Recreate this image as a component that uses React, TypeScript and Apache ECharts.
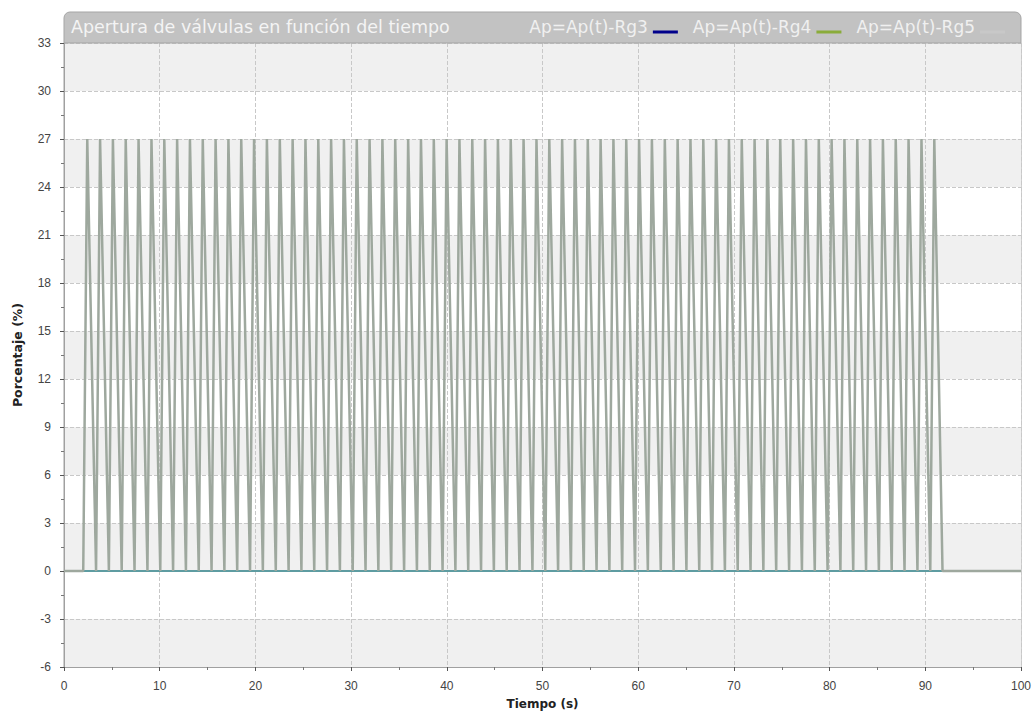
import React, { useEffect, useRef } from "react";
import * as echarts from "echarts";

const titleText = "Apertura de válvulas en función del tiempo";
const seriesNames = ["Ap=Ap(t)-Rg3", "Ap=Ap(t)-Rg4", "Ap=Ap(t)-Rg5"];
const legendColors = ["#00008b", "#8aac3a", "#c8c8c8"];
const xTicksMin = 0;
const xTicksMax = 100;
const yTicksMin = -6;
const yTicksMax = 33;
const peakValue = 27;

// valley (start of rise) times, s
const valleyTimes = [
  2.01, 3.35, 4.69, 6.03, 7.37, 8.72, 10.06, 11.4, 12.74, 14.08, 15.42, 16.76, 18.1, 19.44,
  20.78, 22.13, 23.47, 24.81, 26.15, 27.49, 28.83, 30.17, 31.51, 32.85, 34.19, 35.54, 36.88,
  38.22, 39.56, 40.9, 42.24, 43.58, 44.92, 46.26, 47.6, 48.95, 50.29, 51.63, 52.97, 54.31,
  55.65, 56.99, 58.33, 59.67, 61.01, 62.36, 63.7, 65.04, 66.38, 67.72, 69.06, 70.4, 71.74,
  73.08, 74.42, 75.77, 77.11, 78.45, 79.79, 81.13, 82.47, 83.81, 85.15, 86.49, 87.83, 89.18,
  90.52,
];
// peak times, s
const peakTimes = [
  2.43, 3.77, 5.11, 6.45, 7.79, 9.14, 10.48, 11.82, 13.16, 14.5, 15.84, 17.18, 18.52, 19.86,
  21.2, 22.55, 23.89, 25.23, 26.57, 27.91, 29.25, 30.59, 31.93, 33.27, 34.61, 35.96, 37.3,
  38.64, 39.98, 41.32, 42.66, 44.0, 45.34, 46.68, 48.02, 49.37, 50.71, 52.05, 53.39, 54.73,
  56.07, 57.41, 58.75, 60.09, 61.43, 62.78, 64.12, 65.46, 66.8, 68.14, 69.48, 70.82, 72.16,
  73.5, 74.84, 76.19, 77.53, 78.87, 80.21, 81.55, 82.89, 84.23, 85.57, 86.91, 88.25, 89.6,
  90.94,
];
const pulsesEnd = 91.8;
const zeroSeries = [
  [0, 0],
  [100, 0],
];

export default function App() {
  const ref = useRef<HTMLDivElement>(null);
  useEffect(() => {
    if (!ref.current) return;
    const chart = echarts.init(ref.current, undefined, { renderer: "svg" });
    const rg5: number[][] = [[0, 0]];
    for (let i = 0; i < peakTimes.length; i++) {
      rg5.push([valleyTimes[i], 0]);
      rg5.push([peakTimes[i], peakValue]);
    }
    rg5.push([pulsesEnd, 0]);
    rg5.push([100, 0]);
    const font = "'Liberation Sans', Arial, sans-serif";
    const wideFont = "'DejaVu Sans', Verdana, sans-serif";
    const legendIcon = "path://M0 0L0.01 0M0 11L25 11L25 14L0 14Z";
    chart.setOption({
      animation: false,
      textStyle: { fontFamily: font },
      grid: {
        left: 64,
        right: 13,
        top: 43,
        bottom: 44,
        outerBoundsMode: "none",
        containLabel: false,
        show: true,
        borderColor: "#a0a0a0",
        borderWidth: 1,
        backgroundColor: "transparent",
      },
      graphic: [
        {
          type: "rect",
          shape: { x: 64, y: 12, width: 957, height: 31, r: [6, 6, 0, 0] },
          style: { fill: "#c2c2c2", stroke: "#a5a5a5", lineWidth: 1 },
          z: 10,
        },
        {
          type: "text",
          x: 71,
          y: 27,
          style: {
            text: titleText,
            fill: "#f4f4f4",
            font: `17.5px ${wideFont}`,
            verticalAlign: "middle",
          },
          z: 11,
        },
      ],
      legend: {
        right: 24,
        top: 13,
        align: "right",
        itemGap: 15,
        itemWidth: 25,
        itemHeight: 14,
        icon: legendIcon,
        z: 12,
        textStyle: { color: "#f0f0f0", fontSize: 17, fontFamily: wideFont },
        data: seriesNames,
      },
      xAxis: {
        type: "value",
        min: xTicksMin,
        max: xTicksMax,
        interval: 10,
        name: "Tiempo (s)",
        nameLocation: "middle",
        nameGap: 31,
        nameTextStyle: { fontWeight: "bold", fontSize: 12, color: "#222", fontFamily: wideFont },
        axisLine: { onZero: false, lineStyle: { color: "#a0a0a0" } },
        axisTick: { show: true, length: 4, lineStyle: { color: "#555" } },
        minorTick: { show: true, splitNumber: 2, length: 3, lineStyle: { color: "#777" } },
        axisLabel: { color: "#444", fontSize: 12, margin: 13 },
        splitLine: { show: true, lineStyle: { color: "#c8c8c8", type: "dashed" } },
      },
      yAxis: {
        type: "value",
        min: yTicksMin,
        max: yTicksMax,
        interval: 3,
        name: "Porcentaje (%)",
        nameLocation: "middle",
        nameGap: 40,
        nameTextStyle: { fontWeight: "bold", fontSize: 12.5, color: "#222", fontFamily: wideFont },
        axisLine: { show: true, lineStyle: { color: "#a0a0a0" } },
        axisTick: { show: true, length: 4, lineStyle: { color: "#555" } },
        minorTick: { show: true, splitNumber: 2, length: 3, lineStyle: { color: "#777" } },
        axisLabel: { color: "#444", fontSize: 12, margin: 13 },
        splitLine: { show: true, lineStyle: { color: "#c8c8c8", type: "dashed" } },
        splitArea: { show: true, areaStyle: { color: ["#f0f0f0", "#ffffff"] } },
      },
      series: [
        {
          name: seriesNames[0],
          type: "line",
          data: zeroSeries,
          showSymbol: false,
          itemStyle: { color: legendColors[0] },
          lineStyle: { color: "#3f7fa0", width: 2 },
        },
        {
          name: seriesNames[1],
          type: "line",
          data: zeroSeries,
          showSymbol: false,
          itemStyle: { color: legendColors[1] },
          lineStyle: { color: "#6aa6a2", width: 1.5 },
        },
        {
          name: seriesNames[2],
          type: "line",
          data: rg5,
          showSymbol: false,
          itemStyle: { color: legendColors[2] },
          lineStyle: { color: "#9ea89e", width: 2.5 },
        },
      ],
    });
    return () => chart.dispose();
  }, []);
  return <div ref={ref} style={{ width: 1034, height: 711, position: "absolute", left: 0, top: 0 }} />;
}
